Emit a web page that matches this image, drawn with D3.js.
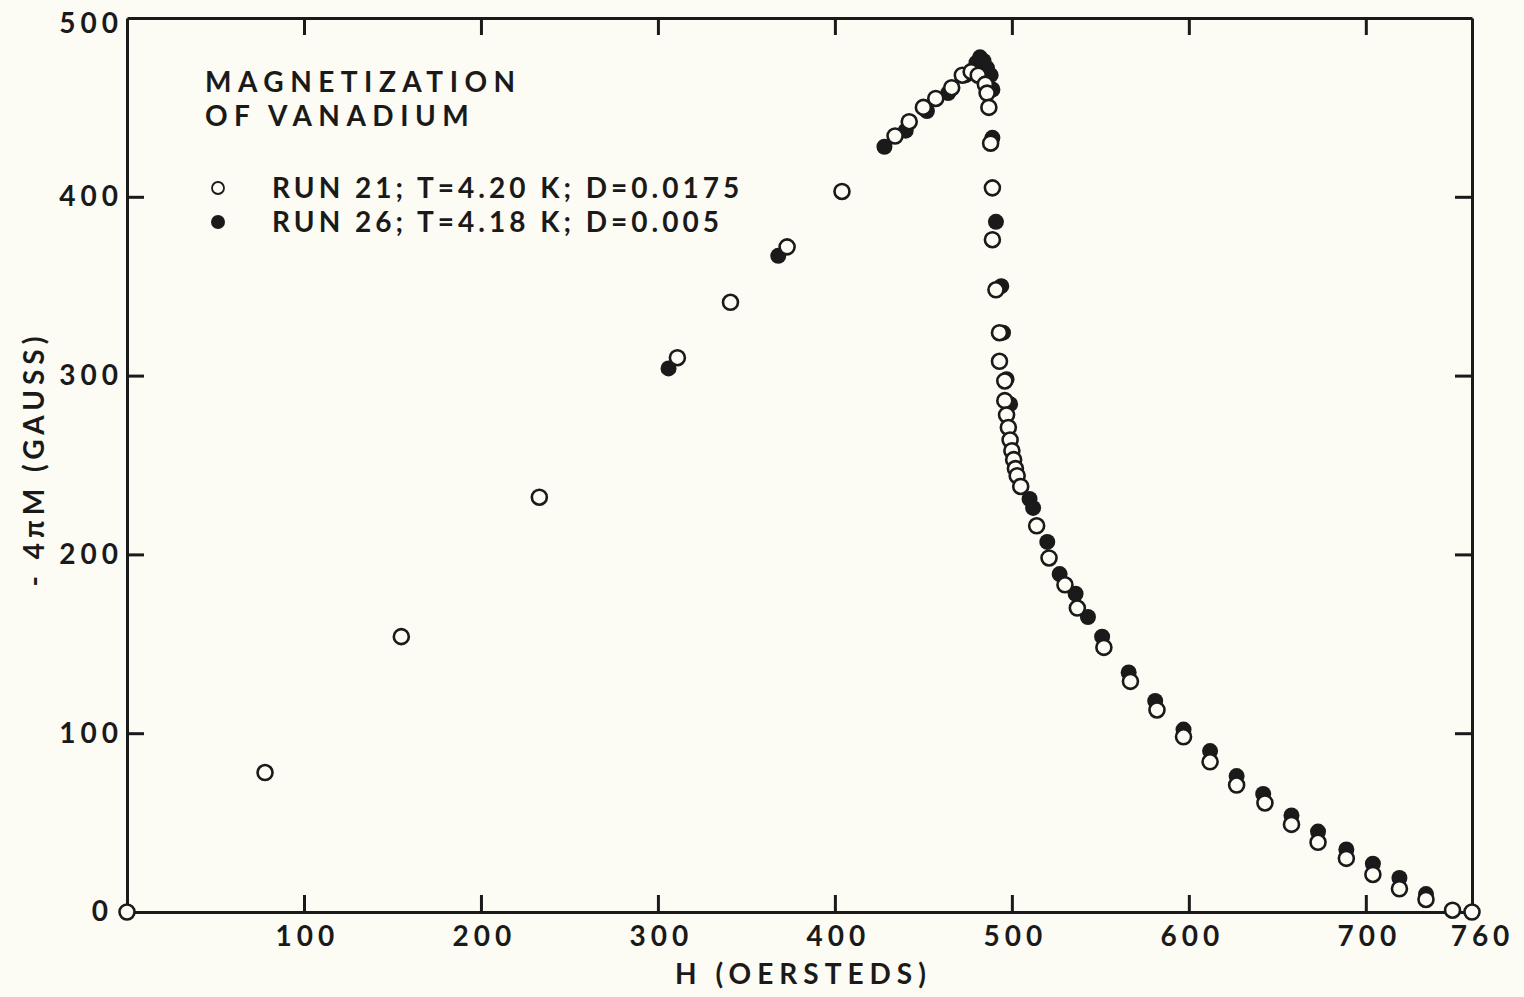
<!DOCTYPE html>
<html>
<head>
<meta charset="utf-8">
<script src="https://cdn.jsdelivr.net/npm/d3@7"></script>
<style>
  body { margin: 0; background: #fcfbf4; }
  svg { display: block; }
  text { font-family: Lato, "DejaVu Sans", sans-serif; font-weight: 700; fill: #1a1a1a; }
  .axis path, .axis line { stroke: #1a1a1a; stroke-width: 3; }
  .axis text { font-size: 28px; letter-spacing: 5px; }
</style>
</head>
<body>
<div id="chart"></div>
<script>
// Run 21 (open circles): [H (oersteds), -4piM (gauss)]
var run21 = [
  [0, 0], [78, 78], [155, 154], [233, 232], [311, 310], [341, 341], [373, 372], [404, 403],
  [434, 434], [442, 442], [450, 450], [457, 455], [466, 461], [472, 468], [477, 470], [481, 468],
  [485, 463], [486, 458], [487, 450], [488, 430], [489, 405], [489, 376], [491, 348], [493, 324],
  [493, 308], [496, 297], [496, 286], [497, 278], [498, 271], [499, 264], [500, 258], [501, 253],
  [502, 248], [503, 244], [505, 238], [514, 216], [521, 198], [530, 183], [537, 170], [552, 148],
  [567, 129], [582, 113], [597, 98], [612, 84], [627, 71], [643, 61], [658, 49], [673, 39],
  [689, 30], [704, 21], [719, 13], [734, 7], [749, 1], [760, 0]
]

// Run 26 (filled circles)
var run26 = [
  [306, 304], [368, 367], [428, 428], [440, 437], [452, 448], [464, 458], [474, 468], [480, 475],
  [482, 478], [484, 476], [486, 472], [488, 468], [489, 460], [489, 433], [491, 386], [494, 350],
  [495, 324], [497, 298], [499, 284], [510, 231], [512, 226], [520, 207], [527, 189], [536, 178],
  [543, 165], [551, 154], [566, 134], [581, 118], [597, 102], [612, 90], [627, 76], [642, 66],
  [658, 54], [673, 45], [689, 35], [704, 27], [719, 19], [734, 10]
]

var xTicks = [100, 200, 300, 400, 500, 600, 700, 760]
var yTicks = [0, 100, 200, 300, 400, 500]
var titleLines = ['MAGNETIZATION', 'OF  VANADIUM']
var legendLabels = ['RUN  21; T=4.20 K; D=0.0175', 'RUN  26; T=4.18 K; D=0.005']

var bg = '#fcfbf4', ink = '#1a1a1a'
var width = 1524, height = 997

var svg = d3.select('#chart').append('svg')
  .attr('width', width).attr('height', height)

var x = d3.scaleLinear().domain([0, 760]).range([127, 1472])
var y = d3.scaleLinear().domain([0, 500]).range([912, 18])

// frame + inward ticks
svg.append('g').attr('class', 'axis')
  .attr('transform', 'translate(0,' + y(0) + ')')
  .call(d3.axisBottom(x).tickValues(xTicks).tickSizeInner(-17).tickSizeOuter(0).tickPadding(14).tickFormat(d3.format('d')))
  .call(g => g.selectAll('text').attr('dx', 3))
  .call(g => g.selectAll('.tick').filter(d => d == 760).select('line').remove())
  .call(g => g.selectAll('.tick').filter(d => d == 760).select('text').attr('dx', 10))

svg.append('g').attr('class', 'axis')
  .attr('transform', 'translate(0,' + y(500) + ')')
  .call(d3.axisTop(x).tickValues(xTicks.slice(0, 7)).tickSizeInner(-17).tickSizeOuter(0).tickFormat(''))

svg.append('g').attr('class', 'axis')
  .attr('transform', 'translate(' + x(0) + ',0)')
  .call(d3.axisLeft(y).tickValues(yTicks).tickSizeInner(-17).tickSizeOuter(0).tickPadding(4).tickFormat(d3.format('d')))
  .call(g => g.selectAll('.tick').filter(d => d == 0 || d == 500).select('line').remove())
  .call(g => g.selectAll('.tick').filter(d => d == 0).select('text').attr('dx', -10))
  .call(g => g.selectAll('.tick').filter(d => d == 500).select('text').attr('dy', '0.5em'))

svg.append('g').attr('class', 'axis')
  .attr('transform', 'translate(' + x(760) + ',0)')
  .call(d3.axisRight(y).tickValues(yTicks.slice(1, 5)).tickSizeInner(-17).tickSizeOuter(0).tickFormat(''))

// axis titles
svg.append('text')
  .attr('x', x(380) + 4).attr('y', 984)
  .attr('text-anchor', 'middle')
  .style('font-size', '28px').style('letter-spacing', '6px')
  .text('H (OERSTEDS)')

svg.append('text')
  .attr('transform', 'translate(44,' + (y(250) - 6) + ') rotate(-90)')
  .attr('text-anchor', 'middle')
  .style('font-size', '28px').style('letter-spacing', '5px')
  .text('- 4πM (GAUSS)')

// points: filled run behind, open run on top
svg.append('g').selectAll('circle').data(run26).join('circle')
  .attr('cx', d => x(d[0])).attr('cy', d => y(d[1]))
  .attr('r', 8).attr('fill', ink)

svg.append('g').selectAll('circle').data(run21).join('circle')
  .attr('cx', d => x(d[0])).attr('cy', d => y(d[1]))
  .attr('r', 7.5).attr('fill', bg).attr('stroke', ink).attr('stroke-width', 2.6)

// title
svg.append('g').selectAll('text').data(titleLines).join('text')
  .attr('x', 205).attr('y', (d, i) => 92 + i * 34)
  .style('font-size', '28px').style('letter-spacing', '6.5px')
  .text(d => d)

// legend
var leg = svg.append('g').selectAll('g').data(legendLabels).join('g')
  .attr('transform', (d, i) => 'translate(218,' + (188 + i * 34) + ')')

leg.append('circle')
  .attr('r', (d, i) => i ? 7 : 6)
  .attr('fill', (d, i) => i ? ink : bg)
  .attr('stroke', ink).attr('stroke-width', (d, i) => i ? 0 : 1.8)

leg.append('text')
  .attr('x', 54).attr('y', 10)
  .style('font-size', '28px').style('letter-spacing', '4px')
  .text(d => d)
</script>
</body>
</html>
